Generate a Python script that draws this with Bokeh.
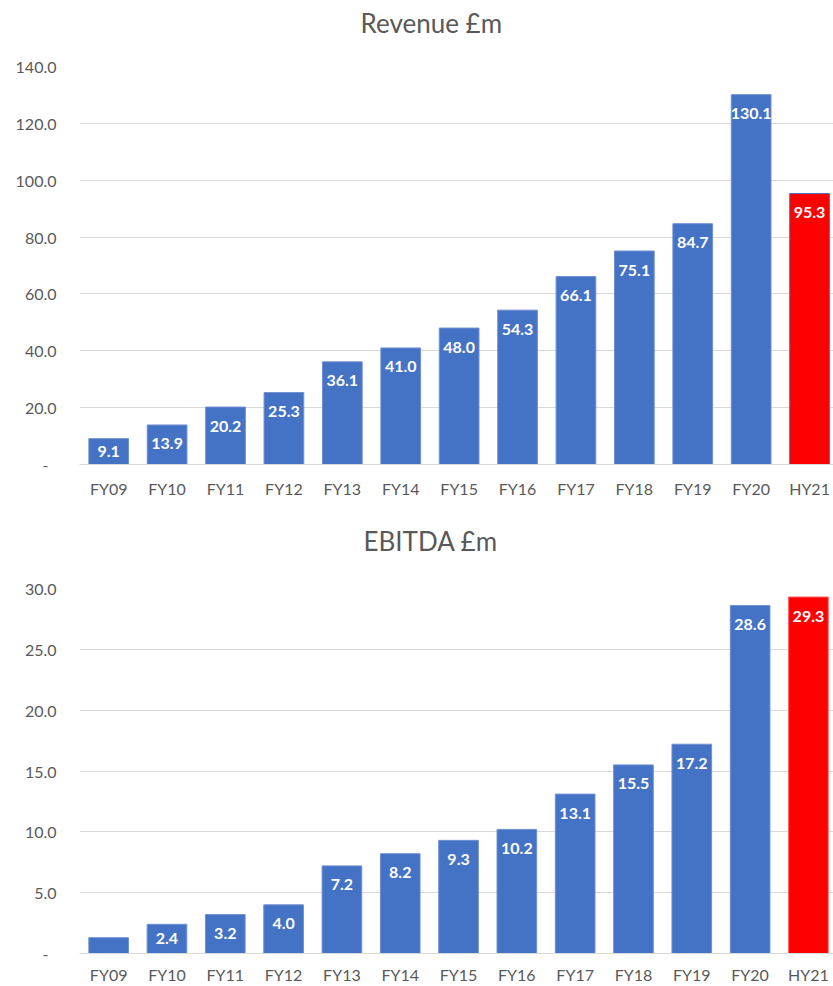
from bokeh.plotting import figure
from bokeh.models import Range1d, FixedTicker, PrintfTickFormatter, ColumnDataSource, Title
from bokeh.layouts import column
from bokeh.embed import file_html
from bokeh.resources import INLINE
from bokeh.core.properties import value

categories = ["FY09", "FY10", "FY11", "FY12", "FY13", "FY14", "FY15",
              "FY16", "FY17", "FY18", "FY19", "FY20", "HY21"]
revenue = [9.1, 13.9, 20.2, 25.3, 36.1, 41.0, 48.0, 54.3, 66.1, 75.1, 84.7, 130.1, 95.3]
ebitda = [1.3, 2.4, 3.2, 4.0, 7.2, 8.2, 9.3, 10.2, 13.1, 15.5, 17.2, 28.6, 29.3]
revenue_labels = ["9.1", "13.9", "20.2", "25.3", "36.1", "41.0", "48.0",
                  "54.3", "66.1", "75.1", "84.7", "130.1", "95.3"]
ebitda_labels = ["", "2.4", "3.2", "4.0", "7.2", "8.2", "9.3",
                 "10.2", "13.1", "15.5", "17.2", "28.6", "29.3"]
revenue_ticks = [0, 20, 40, 60, 80, 100, 120, 140]
ebitda_ticks = [0, 5, 10, 15, 20, 25, 30]

BLUE = "#4472C4"
RED = "#FF0000"
GREY = "#595959"
GRID = "#D9D9D9"
FONT = "Lato"

fill_colors = [BLUE] * 12 + [RED]
rev_line_colors = ["#6F8FD0"] * 12 + [BLUE]
ebit_line_colors = ["#6F8FD0"] * 12 + ["#FF6060"]


def make_chart(title, vals, labels, ticks, ymax, line_colors,
               height, b_top, b_bottom, b_left, x_end, x_standoff,
               title_offset, gap):
    idx = list(range(len(categories)))
    frame_h = height - b_top - b_bottom
    # label sits ~19px inside the bar end, or centred if the bar is short
    offs = [min(19.0, 0.5 * v * frame_h / ymax) for v in vals]
    src = ColumnDataSource(dict(x=idx, top=vals, lab=labels, off=offs,
                                fill=fill_colors, line=line_colors))
    p = figure(width=833, height=height, output_backend="svg", toolbar_location=None,
               x_range=Range1d(-0.5, x_end), y_range=Range1d(0, ymax),
               min_border_top=b_top, min_border_bottom=b_bottom,
               min_border_left=b_left, min_border_right=0)
    p.outline_line_color = None
    p.background_fill_color = "white"
    p.border_fill_color = "white"

    p.vbar(x="x", top="top", width=0.68, bottom=0, source=src,
           fill_color="fill", line_color="line", line_width=1)
    p.text(x="x", y="top", text="lab", source=src, text_align="center",
           text_baseline="middle", y_offset="off", text_color="white",
           text_font=value(FONT), text_font_style="bold", text_font_size="16px")

    # invisible spacer between the chart title and the plot area
    spacer = Title(text=" ", text_font_size="1px", standoff=gap, text_color="white")
    p.add_layout(spacer, "above")

    # title
    p.title.text = title
    p.title.align = "left"
    p.title.vertical_align = "bottom"
    p.title.offset = title_offset
    p.title.standoff = 0
    p.title.text_font = FONT
    p.title.text_font_size = "26px"
    p.title.text_font_style = "normal"
    p.title.text_color = GREY

    # x axis
    xa = p.xaxis[0]
    xa.ticker = FixedTicker(ticks=idx)
    xa.major_label_overrides = {i: c for i, c in zip(idx, categories)}
    xa.major_tick_line_color = None
    xa.minor_tick_line_color = None
    xa.axis_line_color = GRID
    xa.axis_line_width = 1
    xa.major_label_standoff = x_standoff
    xa.major_label_text_font = FONT
    xa.major_label_text_font_size = "16px"
    xa.major_label_text_color = GREY

    # y axis
    ya = p.yaxis[0]
    ya.ticker = FixedTicker(ticks=ticks)
    ya.formatter = PrintfTickFormatter(format="%.1f")
    ya.major_label_overrides = {0: "-\u2002"}
    ya.major_tick_line_color = None
    ya.minor_tick_line_color = None
    ya.axis_line_color = None
    ya.major_label_standoff = 17
    ya.major_label_text_font = FONT
    ya.major_label_text_font_size = "16px"
    ya.major_label_text_color = GREY

    p.xgrid.grid_line_color = None
    p.ygrid.ticker = FixedTicker(ticks=ticks)
    p.ygrid.grid_line_color = GRID
    p.ygrid.grid_line_width = 1
    return p


p1 = make_chart("Revenue £m", revenue, revenue_labels, revenue_ticks, 140, rev_line_colors,
                height=500, b_top=66, b_bottom=36, b_left=79, x_end=12.41, x_standoff=8,
                title_offset=281, gap=25)
p2 = make_chart("EBITDA £m", ebitda, ebitda_labels, ebitda_ticks, 30, ebit_line_colors,
                height=486, b_top=88, b_bottom=33, b_left=70, x_end=12.43, x_standoff=5,
                title_offset=284, gap=29)

layout = column(p1, p2, spacing=0)
open("out.html", "w").write(file_html(layout, INLINE))
